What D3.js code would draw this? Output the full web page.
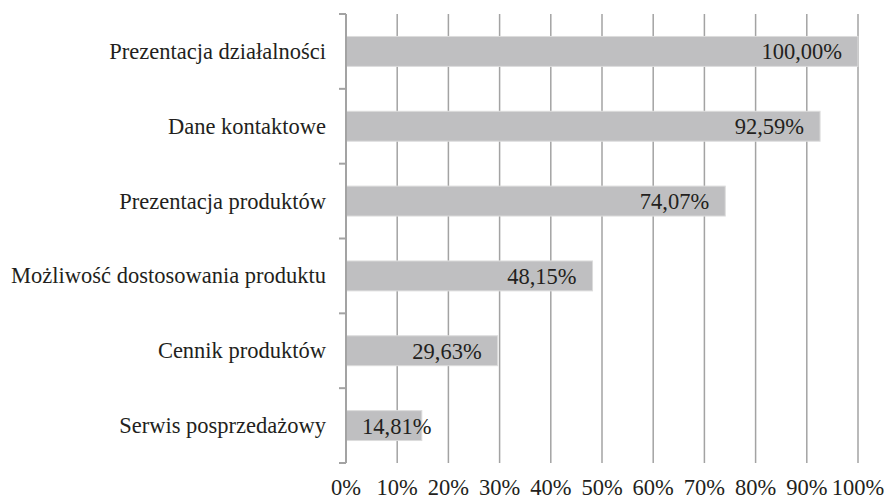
<!DOCTYPE html>
<html>
<head>
<meta charset="utf-8">
<script src="https://cdn.jsdelivr.net/npm/d3@7"></script>
<style>
body { margin: 0; background: #fff; }
text { font-family: "Liberation Serif", "Times New Roman", serif; fill: #231f20; }
</style>
</head>
<body>
<script>
//chart data
var categories = [
    "Prezentacja działalności",
    "Dane kontaktowe",
    "Prezentacja produktów",
    "Możliwość dostosowania produktu",
    "Cennik produktów",
    "Serwis posprzedażowy"
];
var values = [100.00, 92.59, 74.07, 48.15, 29.63, 14.81];
var ticks = [0, 10, 20, 30, 40, 50, 60, 70, 80, 90, 100];

//plot area (note: "top" is a reserved window property, so use other names)
var w = 886, h = 499;
var plotLeft = 346, plotRight = 858, plotTop = 14, plotBottom = 463;
var fontSize = "22.5px";

var svg = d3.select("body")
    .append("svg")
    .attr("width", w)
    .attr("height", h);

var x = d3.scaleLinear()
    .domain([0, 100])
    .range([plotLeft, plotRight]);

var y = d3.scaleBand()
    .domain(categories)
    .range([plotTop, plotBottom])
    .paddingInner(0.6)
    .paddingOuter(0.3);

var fmt = function(v){
    return v.toFixed(2).replace(".", ",") + "%";
};

//vertical grid lines
svg.selectAll(".grid")
    .data(ticks.slice(1))
    .enter()
    .append("line")
    .attr("class", "grid")
    .attr("x1", function(d){ return x(d); })
    .attr("x2", function(d){ return x(d); })
    .attr("y1", plotTop)
    .attr("y2", plotBottom)
    .style("stroke", "#a3a3a3")
    .style("stroke-width", 1.5);

//bars
svg.selectAll(".bar")
    .data(values)
    .enter()
    .append("rect")
    .attr("class", "bar")
    .attr("x", x(0))
    .attr("y", function(d, i){ return y(categories[i]); })
    .attr("width", function(d){ return x(d) - x(0); })
    .attr("height", y.bandwidth())
    .style("fill", "#bfbfc1")
    .style("stroke", "#dcdcdc")
    .style("stroke-width", 1);

//left axis with ticks at category boundaries
var bounds = d3.range(categories.length + 1).map(function(i){
    return plotTop + i * (plotBottom - plotTop) / categories.length;
});
svg.append("line")
    .attr("x1", plotLeft).attr("x2", plotLeft)
    .attr("y1", plotTop).attr("y2", plotBottom)
    .style("stroke", "#a3a3a3")
    .style("stroke-width", 2);
svg.selectAll(".ytick")
    .data(bounds)
    .enter()
    .append("line")
    .attr("class", "ytick")
    .attr("x1", plotLeft - 7).attr("x2", plotLeft)
    .attr("y1", function(d){ return d; })
    .attr("y2", function(d){ return d; })
    .style("stroke", "#a3a3a3")
    .style("stroke-width", 2);

//category labels
svg.selectAll(".cat")
    .data(categories)
    .enter()
    .append("text")
    .attr("class", "cat")
    .attr("x", 326)
    .attr("y", function(d){ return y(d) + y.bandwidth() / 2 + 7.5; })
    .attr("text-anchor", "end")
    .style("font-size", fontSize)
    .text(function(d){ return d; });

//value labels, inside end
svg.selectAll(".val")
    .data(values)
    .enter()
    .append("text")
    .attr("class", "val")
    .attr("y", function(d, i){ return y(categories[i]) + y.bandwidth() / 2 + 8; })
    .attr("text-anchor", "end")
    .style("font-size", fontSize)
    .text(function(d){ return fmt(d); })
    .attr("x", function(d){
        var tw = this.getComputedTextLength();
        var end = x(d) - 16;
        if (end - tw < x(0) + 16) end = x(0) + 16 + tw;
        return end;
    });

//bottom tick labels
svg.selectAll(".xlab")
    .data(ticks)
    .enter()
    .append("text")
    .attr("class", "xlab")
    .attr("x", function(d){ return x(d); })
    .attr("y", 495)
    .attr("text-anchor", "middle")
    .style("font-size", fontSize)
    .text(function(d){ return d + "%"; });
</script>
</body>
</html>
